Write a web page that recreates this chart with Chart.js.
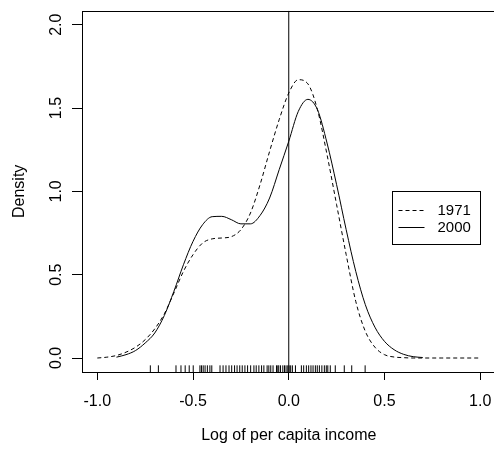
<!DOCTYPE html>
<html>
<head>
<meta charset="utf-8">
<script src="https://cdn.jsdelivr.net/npm/chart.js@4.4.0/dist/chart.umd.min.js"></script>
<style>
  html, body { margin: 0; padding: 0; background: #fff; overflow: hidden; }
  #wrap { width: 500px; height: 450px; }
</style>
</head>
<body>
<div id="wrap"><canvas id="densityChart" width="500" height="450"></canvas></div>
<script>
// density estimates
const xs1971 = [-1.00, -0.95, -0.90, -0.85, -0.80, -0.75, -0.70, -0.65, -0.60, -0.55, -0.50, -0.45, -0.40, -0.35, -0.30, -0.25, -0.20, -0.15, -0.10, -0.05, 0.00, 0.05, 0.10, 0.15, 0.20, 0.25, 0.30, 0.35, 0.40, 0.45, 0.50, 0.55, 0.60, 0.65, 0.70, 0.80, 0.90, 1.00];
const density1971 = [0.0, 0.005, 0.015, 0.035, 0.065, 0.11, 0.175, 0.265, 0.39, 0.52, 0.62, 0.69, 0.715, 0.72, 0.728, 0.77, 0.87, 1.04, 1.24, 1.43, 1.59, 1.67, 1.645, 1.49, 1.22, 0.92, 0.62, 0.34, 0.16, 0.065, 0.02, 0.006, 0.002, 0.0, 0.0, 0.0, 0.0, 0.0];

const xs2000 = [-0.90, -0.85, -0.80, -0.75, -0.70, -0.65, -0.60, -0.55, -0.50, -0.45, -0.40, -0.35, -0.30, -0.25, -0.20, -0.15, -0.10, -0.05, 0.00, 0.05, 0.10, 0.15, 0.20, 0.25, 0.30, 0.35, 0.40, 0.45, 0.50, 0.55, 0.60, 0.65, 0.70];
const density2000 = [0.005, 0.02, 0.045, 0.09, 0.15, 0.255, 0.40, 0.56, 0.70, 0.80, 0.848, 0.85, 0.83, 0.805, 0.805, 0.855, 0.96, 1.13, 1.30, 1.48, 1.552, 1.49, 1.29, 1.04, 0.77, 0.52, 0.32, 0.185, 0.10, 0.05, 0.022, 0.008, 0.003];

// observations shown as the rug
const rugValues = [-0.723, -0.681, -0.589, -0.563, -0.541, -0.520, -0.499, -0.464, -0.456, -0.447, -0.437, -0.425, -0.412, -0.402, -0.359, -0.343, -0.328, -0.312, -0.298, -0.283, -0.270, -0.256, -0.243, -0.229, -0.215, -0.199, -0.182, -0.170, -0.156, -0.142, -0.130, -0.113, -0.104, -0.094, -0.082, -0.064, -0.057, -0.052, -0.043, -0.031, -0.022, -0.014, -0.005, 0.002, 0.010, 0.019, 0.035, 0.066, 0.078, 0.092, 0.104, 0.116, 0.127, 0.139, 0.149, 0.160, 0.173, 0.186, 0.196, 0.204, 0.217, 0.243, 0.290, 0.329, 0.399];

const xTicks = [-1.0, -0.5, 0.0, 0.5, 1.0];
const yTicks = [0.0, 0.5, 1.0, 1.5, 2.0];
const seriesLabels = ['1971', '2000'];

const FONT = '"Liberation Sans", Arial, Helvetica, sans-serif';

const toPoints = (xs, ys) => xs.map((x, i) => ({ x: x, y: ys[i] }));

// box, rotated y labels and the legend, R style
const rStyle = {
    id: 'rStyle',
    afterDraw(chart) {
        const { ctx, chartArea, scales } = chart;
        ctx.save();
        ctx.strokeStyle = '#000';
        ctx.lineWidth = 1;
        ctx.strokeRect(Math.round(chartArea.left) + 0.5, Math.round(chartArea.top) + 0.5,
            Math.round(chartArea.right - chartArea.left), Math.round(chartArea.bottom - chartArea.top));

        // y tick labels, rotated like R's las = 0
        ctx.fillStyle = '#000';
        ctx.font = '16px ' + FONT;
        ctx.textAlign = 'center';
        ctx.textBaseline = 'middle';
        yTicks.forEach(v => {
            const py = scales.y.getPixelForValue(v);
            ctx.save();
            ctx.translate(57, py);
            ctx.rotate(-Math.PI / 2);
            ctx.fillText(v.toFixed(1), 0, 0);
            ctx.restore();
        });

        // legend
        const lx = 392.5, ly = 191.5, lw = 88, lh = 53;
        ctx.fillStyle = '#fff';
        ctx.fillRect(lx, ly, lw, lh);
        ctx.strokeRect(lx, ly, lw, lh);
        const rows = [ly + 18.5, ly + 35.5];
        chart.data.datasets.slice(0, 2).forEach((ds, i) => {
            ctx.beginPath();
            ctx.setLineDash(ds.borderDash || []);
            ctx.moveTo(lx + 6, Math.round(rows[i]) + 0.5);
            ctx.lineTo(lx + 32, Math.round(rows[i]) + 0.5);
            ctx.stroke();
            ctx.setLineDash([]);
            ctx.fillStyle = '#000';
            ctx.font = '15px ' + FONT;
            ctx.textAlign = 'left';
            ctx.textBaseline = 'middle';
            ctx.fillText(ds.label, lx + 45, rows[i] + 1);
        });
        ctx.restore();
    }
};

const ctx = document.getElementById('densityChart');
new Chart(ctx, {
    type: 'line',
    data: {
        datasets: [
            {
                label: seriesLabels[0],
                data: toPoints(xs1971, density1971),
                borderColor: '#000',
                borderWidth: 1,
                borderDash: [4, 3],
                pointRadius: 0,
                cubicInterpolationMode: 'monotone',
                fill: false
            },
            {
                label: seriesLabels[1],
                data: toPoints(xs2000, density2000),
                borderColor: '#000',
                borderWidth: 1,
                pointRadius: 0,
                cubicInterpolationMode: 'monotone',
                fill: false
            },
            {
                label: 'zero',
                data: [{ x: 0, y: -0.084 }, { x: 0, y: 2.084 }],
                borderColor: '#000',
                borderWidth: 1,
                pointRadius: 0
            },
            {
                type: 'scatter',
                label: 'rug',
                data: rugValues.map(v => ({ x: v, y: -0.065 })),
                pointStyle: 'line',
                rotation: 90,
                pointRadius: 3.5,
                pointHoverRadius: 3.5,
                borderColor: '#000',
                borderWidth: 1
            }
        ]
    },
    options: {
        responsive: false,
        animation: false,
        events: [],
        devicePixelRatio: 1,
        // canvas is a bit wider than the window: the box's right side falls outside, as in the source
        layout: { padding: { left: 10.4, right: 2.6, top: 10.7, bottom: 4.4 } },
        plugins: {
            legend: { display: false },
            tooltip: { enabled: false }
        },
        scales: {
            x: {
                type: 'linear',
                min: -1.08,
                max: 1.08,
                afterBuildTicks: (scale) => { scale.ticks = xTicks.map(v => ({ value: v })); },
                afterFit: (scale) => {
                    scale.height = 73.6;
                    scale.paddingLeft = 0;
                    scale.paddingRight = 0;
                },
                border: { display: false },
                grid: { drawOnChartArea: false, drawTicks: true, tickLength: 8, color: '#000', lineWidth: 1 },
                ticks: {
                    color: '#000',
                    padding: 12,
                    font: { family: FONT, size: 16 },
                    maxRotation: 0,
                    callback: (v) => Number(v).toFixed(1)
                },
                title: {
                    display: true,
                    text: 'Log of per capita income',
                    color: '#000',
                    padding: 0,
                    font: { family: FONT, size: 16 }
                }
            },
            y: {
                type: 'linear',
                min: -0.084,
                max: 2.084,
                afterBuildTicks: (scale) => { scale.ticks = yTicks.map(v => ({ value: v })); },
                afterFit: (scale) => {
                    scale.width = 71.6;
                    scale.paddingTop = 0;
                    scale.paddingBottom = 0;
                },
                border: { display: false },
                grid: { drawOnChartArea: false, drawTicks: true, tickLength: 10, color: '#000', lineWidth: 1 },
                ticks: { display: false },
                title: {
                    display: true,
                    text: 'Density',
                    color: '#000',
                    padding: 0,
                    font: { family: FONT, size: 16 }
                }
            }
        }
    },
    plugins: [rStyle]
});
</script>
</body>
</html>
